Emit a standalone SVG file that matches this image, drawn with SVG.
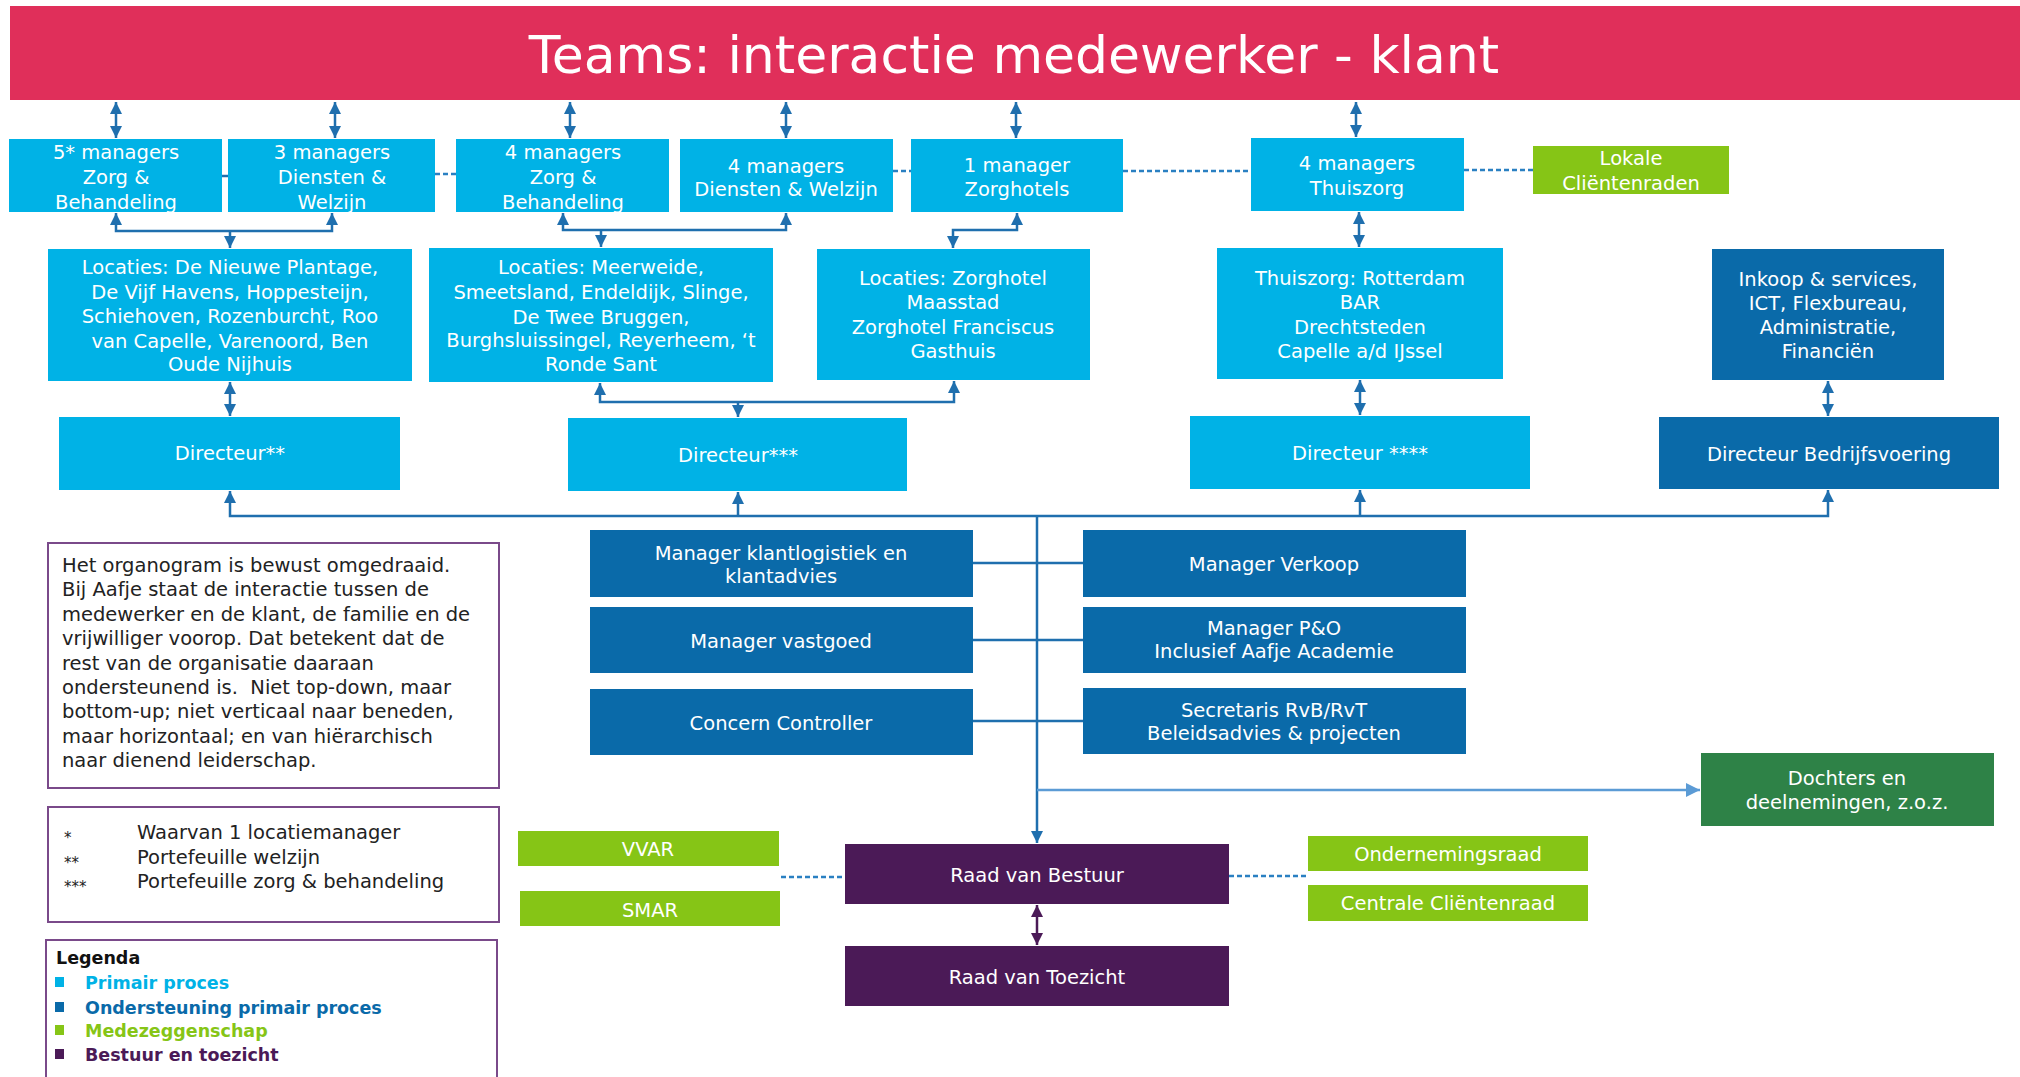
<svg xmlns="http://www.w3.org/2000/svg" width="2020" height="1077" viewBox="0 0 2020 1077">
<defs>
<style>
text{font-family:"DejaVu Sans","Liberation Sans",Arial,sans-serif;}
.t{fill:#fff;font-size:19.5px;text-anchor:middle;dominant-baseline:central;}
.p{fill:#00b2e6;}
.d{fill:#0a6aa9;}
.g{fill:#86c516;}
.dg{fill:#2e8247;}
.pu{fill:#4b1a57;}
.ln{fill:none;stroke:#1f6fae;stroke-width:2.5;}
.lb{fill:none;stroke:#5b9bd5;stroke-width:2.5;}
.lp{fill:none;stroke:#4b1a57;stroke-width:2.5;}
.da{fill:none;stroke:#2a80c2;stroke-width:2.5;stroke-dasharray:5 3;}
.frame{fill:#fff;stroke:#7a4a8a;stroke-width:2;}
.bk{fill:#222;font-size:19.5px;}
.lg{font-size:17.5px;font-weight:bold;}
</style>
<marker id="ah" viewBox="0 0 10 10" refX="10" refY="5" markerWidth="12" markerHeight="14" markerUnits="userSpaceOnUse" orient="auto-start-reverse"><path d="M0,0 L10,5 L0,10 z" fill="#1f6fae"/></marker>
<marker id="ahb" viewBox="0 0 10 10" refX="10" refY="5" markerWidth="16" markerHeight="14" markerUnits="userSpaceOnUse" orient="auto-start-reverse"><path d="M0,0 L10,5 L0,10 z" fill="#5b9bd5"/></marker>
<marker id="ahp" viewBox="0 0 10 10" refX="10" refY="5" markerWidth="12" markerHeight="14" markerUnits="userSpaceOnUse" orient="auto-start-reverse"><path d="M0,0 L10,5 L0,10 z" fill="#4b1a57"/></marker>
</defs>
<rect width="2020" height="1077" fill="#fff"/>

<g id="title">
<rect x="10" y="6" width="2010" height="94" fill="#e02f5a"/>
<text x="1014" y="55" style="fill:#fff;font-size:52px;text-anchor:middle;dominant-baseline:central;">Teams: interactie medewerker - klant</text>
</g>

<g id="connectors">
<line class="ln" x1="116" y1="102" x2="116" y2="138" marker-start="url(#ah)" marker-end="url(#ah)"/>
<line class="ln" x1="335" y1="102" x2="335" y2="138" marker-start="url(#ah)" marker-end="url(#ah)"/>
<line class="ln" x1="570" y1="102" x2="570" y2="138" marker-start="url(#ah)" marker-end="url(#ah)"/>
<line class="ln" x1="786" y1="102" x2="786" y2="138" marker-start="url(#ah)" marker-end="url(#ah)"/>
<line class="ln" x1="1016" y1="102" x2="1016" y2="138" marker-start="url(#ah)" marker-end="url(#ah)"/>
<line class="ln" x1="1356" y1="102" x2="1356" y2="137" marker-start="url(#ah)" marker-end="url(#ah)"/>
<line class="ln" x1="222" y1="176" x2="228" y2="176"/>
<line class="da" x1="435" y1="174" x2="456" y2="174"/>
<line class="da" x1="893" y1="171" x2="911" y2="171"/>
<line class="da" x1="1123" y1="171" x2="1251" y2="171"/>
<line class="da" x1="1464" y1="170" x2="1533" y2="170"/>
<polyline class="ln" points="116,213 116,231 332,231 332,213" marker-start="url(#ah)" marker-end="url(#ah)"/>
<line class="ln" x1="230" y1="231" x2="230" y2="248" marker-end="url(#ah)"/>
<polyline class="ln" points="563,213 563,230 786,230 786,213" marker-start="url(#ah)" marker-end="url(#ah)"/>
<line class="ln" x1="601" y1="230" x2="601" y2="247" marker-end="url(#ah)"/>
<polyline class="ln" points="1017,213 1017,230 953,230 953,248" marker-start="url(#ah)" marker-end="url(#ah)"/>
<line class="ln" x1="1359" y1="212" x2="1359" y2="247" marker-start="url(#ah)" marker-end="url(#ah)"/>
<line class="ln" x1="230" y1="382" x2="230" y2="416" marker-start="url(#ah)" marker-end="url(#ah)"/>
<polyline class="ln" points="600,383 600,402 954,402 954,381" marker-start="url(#ah)" marker-end="url(#ah)"/>
<line class="ln" x1="738" y1="402" x2="738" y2="417" marker-end="url(#ah)"/>
<line class="ln" x1="1360" y1="380" x2="1360" y2="415" marker-start="url(#ah)" marker-end="url(#ah)"/>
<line class="ln" x1="1828" y1="381" x2="1828" y2="416" marker-start="url(#ah)" marker-end="url(#ah)"/>
<polyline class="ln" points="230,491 230,516 1828,516 1828,490" marker-start="url(#ah)" marker-end="url(#ah)"/>
<line class="ln" x1="738" y1="516" x2="738" y2="492" marker-end="url(#ah)"/>
<line class="ln" x1="1360" y1="516" x2="1360" y2="490" marker-end="url(#ah)"/>
<line class="ln" x1="1037" y1="516" x2="1037" y2="843" marker-end="url(#ah)"/>
<line class="ln" x1="973" y1="563" x2="1083" y2="563"/>
<line class="ln" x1="973" y1="640" x2="1083" y2="640"/>
<line class="ln" x1="973" y1="721" x2="1083" y2="721"/>
<line class="lb" x1="1037" y1="790" x2="1700" y2="790" marker-end="url(#ahb)"/>
<line class="lp" x1="1037" y1="905" x2="1037" y2="945" marker-start="url(#ahp)" marker-end="url(#ahp)"/>
<line class="da" x1="781" y1="877" x2="845" y2="877"/>
<line class="da" x1="1229" y1="876" x2="1308" y2="876"/>
</g>

<g id="m1"><rect class="p" x="9" y="139" width="213" height="73"/><text class="t" x="116" y="152">5* managers</text><text class="t" x="116" y="177">Zorg &amp;</text><text class="t" x="116" y="202">Behandeling</text></g>
<g id="m2"><rect class="p" x="228" y="139" width="207" height="73"/><text class="t" x="332" y="152">3 managers</text><text class="t" x="332" y="177">Diensten &amp;</text><text class="t" x="332" y="202">Welzijn</text></g>
<g id="m3"><rect class="p" x="456" y="139" width="213" height="73"/><text class="t" x="563" y="152">4 managers</text><text class="t" x="563" y="177">Zorg &amp;</text><text class="t" x="563" y="202">Behandeling</text></g>
<g id="m4"><rect class="p" x="680" y="139" width="213" height="73"/><text class="t" x="786" y="166">4 managers</text><text class="t" x="786" y="189">Diensten &amp; Welzijn</text></g>
<g id="m5"><rect class="p" x="911" y="139" width="212" height="73"/><text class="t" x="1017" y="165">1 manager</text><text class="t" x="1017" y="189">Zorghotels</text></g>
<g id="m6"><rect class="p" x="1251" y="138" width="213" height="73"/><text class="t" x="1357" y="163">4 managers</text><text class="t" x="1357" y="188">Thuiszorg</text></g>
<g id="lokale"><rect class="g" x="1533" y="146" width="196" height="48"/><text class="t" x="1631" y="158">Lokale</text><text class="t" x="1631" y="183">Cliëntenraden</text></g>

<g id="loc1"><rect class="p" x="48" y="249" width="364" height="132"/>
<text class="t" x="230" y="267">Locaties: De Nieuwe Plantage,</text><text class="t" x="230" y="292">De Vijf Havens, Hoppesteijn,</text><text class="t" x="230" y="316">Schiehoven, Rozenburcht, Roo</text><text class="t" x="230" y="341">van Capelle, Varenoord, Ben</text><text class="t" x="230" y="364">Oude Nijhuis</text></g>
<g id="loc2"><rect class="p" x="429" y="248" width="344" height="134"/>
<text class="t" x="601" y="267">Locaties: Meerweide,</text><text class="t" x="601" y="292">Smeetsland, Endeldijk, Slinge,</text><text class="t" x="601" y="317">De Twee Bruggen,</text><text class="t" x="601" y="340">Burghsluissingel, Reyerheem, ‘t</text><text class="t" x="601" y="364">Ronde Sant</text></g>
<g id="loc3"><rect class="p" x="817" y="249" width="273" height="131"/>
<text class="t" x="953" y="278">Locaties: Zorghotel</text><text class="t" x="953" y="302">Maasstad</text><text class="t" x="953" y="327">Zorghotel Franciscus</text><text class="t" x="953" y="351">Gasthuis</text></g>
<g id="loc4"><rect class="p" x="1217" y="248" width="286" height="131"/>
<text class="t" x="1360" y="278">Thuiszorg: Rotterdam</text><text class="t" x="1360" y="302">BAR</text><text class="t" x="1360" y="327">Drechtsteden</text><text class="t" x="1360" y="351">Capelle a/d IJssel</text></g>
<g id="inkoop"><rect class="d" x="1712" y="249" width="232" height="131"/>
<text class="t" x="1828" y="279">Inkoop &amp; services,</text><text class="t" x="1828" y="303">ICT, Flexbureau,</text><text class="t" x="1828" y="327">Administratie,</text><text class="t" x="1828" y="351">Financiën</text></g>

<g id="dir1"><rect class="p" x="59" y="417" width="341" height="73"/><text class="t" x="230" y="453">Directeur**</text></g>
<g id="dir2"><rect class="p" x="568" y="418" width="339" height="73"/><text class="t" x="738" y="455">Directeur***</text></g>
<g id="dir3"><rect class="p" x="1190" y="416" width="340" height="73"/><text class="t" x="1360" y="453">Directeur ****</text></g>
<g id="dir4"><rect class="d" x="1659" y="417" width="340" height="72"/><text class="t" x="1829" y="454">Directeur Bedrijfsvoering</text></g>

<g id="mk"><rect class="d" x="590" y="530" width="383" height="67"/><text class="t" x="781" y="553">Manager klantlogistiek en</text><text class="t" x="781" y="576">klantadvies</text></g>
<g id="mv"><rect class="d" x="590" y="607" width="383" height="66"/><text class="t" x="781" y="641">Manager vastgoed</text></g>
<g id="cc"><rect class="d" x="590" y="689" width="383" height="66"/><text class="t" x="781" y="723">Concern Controller</text></g>
<g id="verk"><rect class="d" x="1083" y="530" width="383" height="67"/><text class="t" x="1274" y="564">Manager Verkoop</text></g>
<g id="po"><rect class="d" x="1083" y="607" width="383" height="66"/><text class="t" x="1274" y="628">Manager P&amp;O</text><text class="t" x="1274" y="651">Inclusief Aafje Academie</text></g>
<g id="sec"><rect class="d" x="1083" y="688" width="383" height="66"/><text class="t" x="1274" y="710">Secretaris RvB/RvT</text><text class="t" x="1274" y="733">Beleidsadvies &amp; projecten</text></g>

<g id="dochters"><rect class="dg" x="1701" y="753" width="293" height="73"/><text class="t" x="1847" y="778">Dochters en</text><text class="t" x="1847" y="802">deelnemingen, z.o.z.</text></g>
<g id="vvar"><rect class="g" x="518" y="831" width="261" height="35"/><text class="t" x="648" y="849">VVAR</text></g>
<g id="smar"><rect class="g" x="520" y="891" width="260" height="35"/><text class="t" x="650" y="910">SMAR</text></g>
<g id="rvb"><rect class="pu" x="845" y="844" width="384" height="60"/><text class="t" x="1037" y="875">Raad van Bestuur</text></g>
<g id="rvt"><rect class="pu" x="845" y="946" width="384" height="60"/><text class="t" x="1037" y="977">Raad van Toezicht</text></g>
<g id="or"><rect class="g" x="1308" y="836" width="280" height="35"/><text class="t" x="1448" y="854">Ondernemingsraad</text></g>
<g id="ccr"><rect class="g" x="1308" y="885" width="280" height="36"/><text class="t" x="1448" y="903">Centrale Cliëntenraad</text></g>

<g id="note">
<rect class="frame" x="48" y="543" width="451" height="245"/>
<text class="bk" x="62" y="572">Het organogram is bewust omgedraaid.</text>
<text class="bk" x="62" y="596">Bij Aafje staat de interactie tussen de</text>
<text class="bk" x="62" y="621">medewerker en de klant, de familie en de</text>
<text class="bk" x="62" y="645">vrijwilliger voorop. Dat betekent dat de</text>
<text class="bk" x="62" y="670">rest van de organisatie daaraan</text>
<text class="bk" x="62" y="694" xml:space="preserve">ondersteunend is.  Niet top-down, maar</text>
<text class="bk" x="62" y="718">bottom-up; niet verticaal naar beneden,</text>
<text class="bk" x="62" y="743">maar horizontaal; en van hiërarchisch</text>
<text class="bk" x="62" y="767">naar dienend leiderschap.</text>
</g>

<g id="stars">
<rect class="frame" x="48" y="807" width="451" height="115"/>
<text class="bk" x="64" y="843" style="font-size:15px">*</text>
<text class="bk" x="64" y="868" style="font-size:15px">**</text>
<text class="bk" x="64" y="892" style="font-size:15px">***</text>
<text class="bk" x="137" y="839">Waarvan 1 locatiemanager</text>
<text class="bk" x="137" y="864">Portefeuille welzijn</text>
<text class="bk" x="137" y="888">Portefeuille zorg &amp; behandeling</text>
</g>

<g id="legenda">
<rect class="frame" x="46" y="940" width="451" height="145"/>
<text class="lg" x="56" y="964" style="fill:#111">Legenda</text>
<rect x="55" y="977" width="9" height="10" fill="#00b2e6"/>
<text class="lg" x="85" y="989" style="fill:#00b2e6">Primair proces</text>
<rect x="55" y="1002" width="9" height="10" fill="#0a6aa9"/>
<text class="lg" x="85" y="1014" style="fill:#0a6aa9">Ondersteuning primair proces</text>
<rect x="55" y="1025" width="9" height="10" fill="#86c516"/>
<text class="lg" x="85" y="1037" style="fill:#86c516">Medezeggenschap</text>
<rect x="55" y="1049" width="9" height="10" fill="#4b1a57"/>
<text class="lg" x="85" y="1061" style="fill:#4b1a57">Bestuur en toezicht</text>
</g>
</svg>
